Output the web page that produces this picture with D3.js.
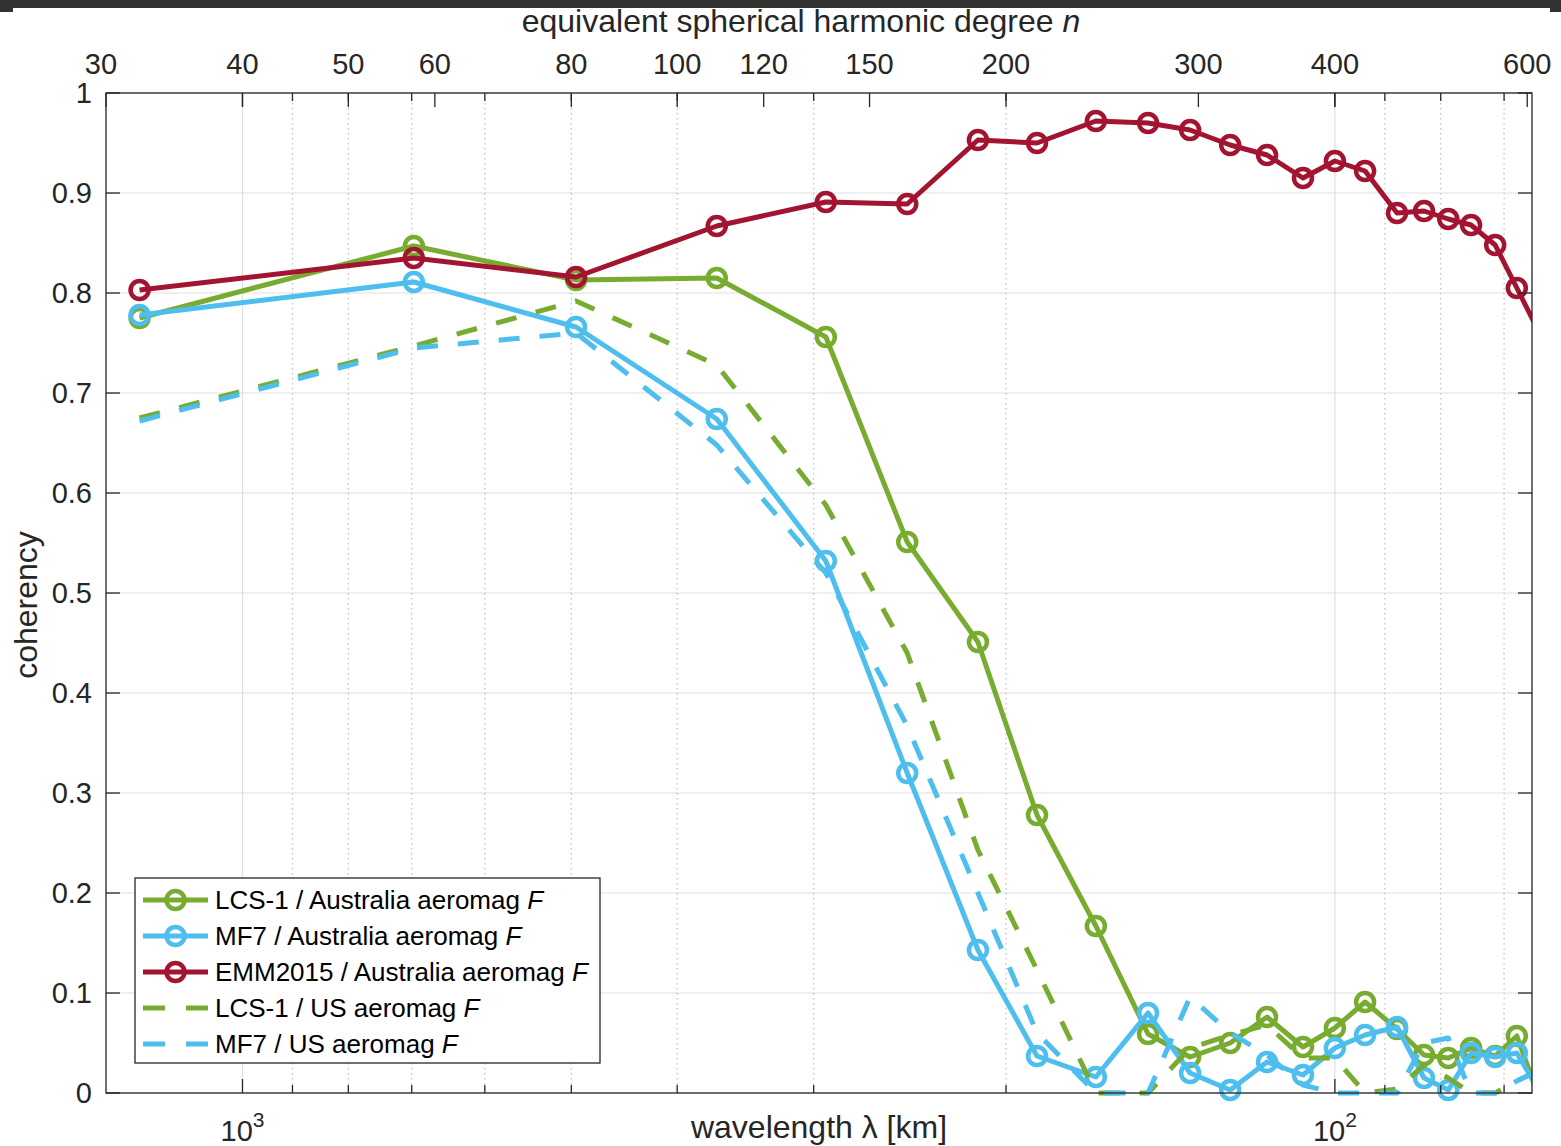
<!DOCTYPE html>
<html>
<head>
<meta charset="utf-8">
<script src="https://cdn.jsdelivr.net/npm/d3@7"></script>
<style>
  body { margin: 0; background: #fff; }
  svg { display: block; }
  text { font-family: "Liberation Sans", Arial, Helvetica, sans-serif; fill: #262626; }
</style>
</head>
<body>
<svg id="chart" width="1561" height="1146"></svg>
<script>
// spherical harmonic degree of each bin (last one sits just past the right edge)
var degree = [32.2, 57.4, 80.8, 108.7, 136.8, 162.4, 188.5, 213.5, 241.7, 269.8, 294.8,
              320.8, 346.7, 374, 400, 426.3, 456, 482.7, 508, 533, 560.8, 587, 613];

// coherency
var lcsAus = [0.775, 0.847, 0.813, 0.815, 0.756, 0.551, 0.451, 0.278, 0.167, 0.059, 0.036,
              0.050, 0.076, 0.046, 0.065, 0.091, 0.064, 0.038, 0.035, 0.045, 0.037, 0.057, 0.0];
var mf7Aus = [0.778, 0.811, 0.766, 0.674, 0.532, 0.320, 0.143, 0.037, 0.016, 0.080, 0.020,
              0.003, 0.031, 0.018, 0.045, 0.058, 0.066, 0.015, 0.003, 0.040, 0.036, 0.040, 0.005];
var emmAus = [0.803, 0.835, 0.816, 0.867, 0.891, 0.889, 0.953, 0.950, 0.972, 0.970, 0.963,
              0.948, 0.938, 0.915, 0.932, 0.922, 0.880, 0.882, 0.874, 0.868, 0.848, 0.805, 0.764];
var lcsUS  = [0.675, 0.747, 0.792, 0.728, 0.588, 0.440, 0.243, 0.123, 0.0, 0.0, 0.045,
              0.058, 0.068, 0.035, 0.035, 0.0, 0.004, 0.028, 0.015, 0.0, 0.0, 0.012, 0.022];
var mf7US  = [0.672, 0.745, 0.760, 0.648, 0.520, 0.367, 0.200, 0.060, 0.0, 0.0, 0.096,
              0.060, 0.038, 0.008, 0.0, 0.0, 0.0, 0.050, 0.055, 0.0, 0.0, 0.012, 0.022];

var topTicks = [30, 40, 50, 60, 80, 100, 120, 150, 200, 300, 400, 600];
var wlMajor = [1000, 100];
var wlMajorExp = ["3", "2"];
var wlMinor = [900, 800, 700, 600, 500, 400, 300, 200, 90, 80, 70];
var yTicks = [0, 0.1, 0.2, 0.3, 0.4, 0.5, 0.6, 0.7, 0.8, 0.9, 1];

var series = [
  { name: "LCS-1 / Australia aeromag ", vals: lcsAus, color: "#77AC30", dash: null, marker: true },
  { name: "MF7 / Australia aeromag ", vals: mf7Aus, color: "#4DBEEE", dash: null, marker: true },
  { name: "EMM2015 / Australia aeromag ", vals: emmAus, color: "#A2142F", dash: null, marker: true },
  { name: "LCS-1 / US aeromag ", vals: lcsUS, color: "#77AC30", dash: "21,20", marker: false },
  { name: "MF7 / US aeromag ", vals: mf7US, color: "#4DBEEE", dash: "21,20", marker: false }
];

// n <-> wavelength (km)
function wl(n) { return 40000 / n; }

var L = 106, R = 1532, T = 93, B = 1093;
var axisCol = "#262626";
var lw = 5;

var svg = d3.select("#chart");

// screenshot border at the top
svg.append("rect").attr("x", 0).attr("y", 0).attr("width", 1561).attr("height", 8).attr("fill", "#333");
svg.append("rect").attr("x", 0).attr("y", 8).attr("width", 13).attr("height", 4).attr("fill", "#333");
svg.append("rect").attr("x", 1550).attr("y", 8).attr("width", 11).attr("height", 4).attr("fill", "#333");

var x = d3.scaleLog().domain([wl(30), 66]).range([L, R]);
var y = d3.scaleLinear().domain([0, 1]).range([B, T]);

svg.append("defs").append("clipPath").attr("id", "plotclip")
  .append("rect").attr("x", L).attr("y", T - 12).attr("width", R - L).attr("height", B - T + 24);

// grid
var grid = svg.append("g");
grid.selectAll(".hg").data(yTicks).join("line")
  .attr("x1", L).attr("x2", R)
  .attr("y1", function(d) { return y(d); }).attr("y2", function(d) { return y(d); })
  .attr("stroke", "#dfdfdf").attr("stroke-width", 1.2);
grid.selectAll(".vmin").data(wlMinor).join("line")
  .attr("x1", function(d) { return x(d); }).attr("x2", function(d) { return x(d); })
  .attr("y1", T).attr("y2", B)
  .attr("stroke", "#bdbdbd").attr("stroke-width", 1.2).attr("stroke-dasharray", "1.5,3.5");
grid.selectAll(".vmaj").data(wlMajor).join("line")
  .attr("x1", function(d) { return x(d); }).attr("x2", function(d) { return x(d); })
  .attr("y1", T).attr("y2", B)
  .attr("stroke", "#dfdfdf").attr("stroke-width", 1.2);

// data
var line = d3.line()
  .x(function(d) { return x(wl(d[0])); })
  .y(function(d) { return y(d[1]); });

var plot = svg.append("g").attr("clip-path", "url(#plotclip)");
series.forEach(function(s) {
  var pts = degree.map(function(n, i) { return [n, s.vals[i]]; });
  var g = plot.append("g");
  g.append("path").attr("d", line(pts))
    .attr("fill", "none").attr("stroke", s.color).attr("stroke-width", lw)
    .attr("stroke-linejoin", "round")
    .attr("stroke-dasharray", s.dash);
  if (s.marker) {
    g.selectAll("circle").data(pts.filter(function(p) { return wl(p[0]) >= 66; })).join("circle")
      .attr("cx", function(d) { return x(wl(d[0])); })
      .attr("cy", function(d) { return y(d[1]); })
      .attr("r", 9).attr("fill", "none")
      .attr("stroke", s.color).attr("stroke-width", 4.5);
  }
});

// axes box and ticks
var ax = svg.append("g").attr("stroke", axisCol).attr("stroke-width", 1.3);
ax.append("rect").attr("x", L).attr("y", T).attr("width", R - L).attr("height", B - T).attr("fill", "none");

// y ticks, both sides
yTicks.forEach(function(v) {
  ax.append("line").attr("x1", L).attr("x2", L + 14).attr("y1", y(v)).attr("y2", y(v));
  ax.append("line").attr("x1", R).attr("x2", R - 14).attr("y1", y(v)).attr("y2", y(v));
});
// wavelength ticks, bottom and mirrored on top
wlMajor.forEach(function(v) {
  ax.append("line").attr("x1", x(v)).attr("x2", x(v)).attr("y1", B).attr("y2", B - 14);
  ax.append("line").attr("x1", x(v)).attr("x2", x(v)).attr("y1", T).attr("y2", T + 14);
});
wlMinor.forEach(function(v) {
  ax.append("line").attr("x1", x(v)).attr("x2", x(v)).attr("y1", B).attr("y2", B - 8);
  ax.append("line").attr("x1", x(v)).attr("x2", x(v)).attr("y1", T).attr("y2", T + 8);
});
// degree ticks on top
topTicks.forEach(function(n) {
  ax.append("line").attr("x1", x(wl(n))).attr("x2", x(wl(n))).attr("y1", T).attr("y2", T + 14);
});

// tick labels
svg.selectAll(".ylab").data(yTicks).join("text")
  .attr("x", 92).attr("y", function(d) { return y(d); }).attr("dy", "0.35em")
  .attr("text-anchor", "end").attr("font-size", 29)
  .text(function(d) { return d3.format("~g")(d); });

svg.selectAll(".tlab").data(topTicks).join("text")
  .attr("x", function(d) { return d === 30 ? x(wl(d)) - 5 : x(wl(d)); }).attr("y", 74)
  .attr("text-anchor", "middle").attr("font-size", 29)
  .text(function(d) { return d; });

wlMajor.forEach(function(v, i) {
  var t = svg.append("text").attr("x", x(v)).attr("y", 1141)
    .attr("text-anchor", "middle").attr("font-size", 29);
  t.append("tspan").text("10");
  t.append("tspan").attr("font-size", 21).attr("dy", -14).text(wlMajorExp[i]);
});

// axis labels
svg.append("text").attr("x", (L + R) / 2).attr("y", 1138)
  .attr("text-anchor", "middle").attr("font-size", 32)
  .text("wavelength \u03bb [km]");

var tl = svg.append("text").attr("x", 801).attr("y", 32)
  .attr("text-anchor", "middle").attr("font-size", 32);
tl.append("tspan").text("equivalent spherical harmonic degree ");
tl.append("tspan").attr("font-style", "italic").text("n");

svg.append("text").attr("transform", "translate(37,605) rotate(-90)")
  .attr("text-anchor", "middle").attr("font-size", 32).text("coherency");

// legend
var lg = svg.append("g");
lg.append("rect").attr("x", 135).attr("y", 878).attr("width", 465).attr("height", 185)
  .attr("fill", "#fff").attr("stroke", axisCol).attr("stroke-width", 1.3);
series.forEach(function(s, i) {
  var cy = 900 + i * 36;
  lg.append("line").attr("x1", 143).attr("x2", 208).attr("y1", cy).attr("y2", cy)
    .attr("stroke", s.color).attr("stroke-width", lw)
    .attr("stroke-dasharray", s.dash ? "22,21" : null);
  if (s.marker) {
    lg.append("circle").attr("cx", 175.5).attr("cy", cy).attr("r", 9)
      .attr("fill", "none").attr("stroke", s.color).attr("stroke-width", 4.5);
  }
  var t = lg.append("text").attr("x", 215).attr("y", cy).attr("dy", "0.35em").attr("font-size", 26)
    .style("fill", "#000");
  t.append("tspan").text(s.name);
  t.append("tspan").attr("font-style", "italic").text("F");
});
</script>
</body>
</html>
